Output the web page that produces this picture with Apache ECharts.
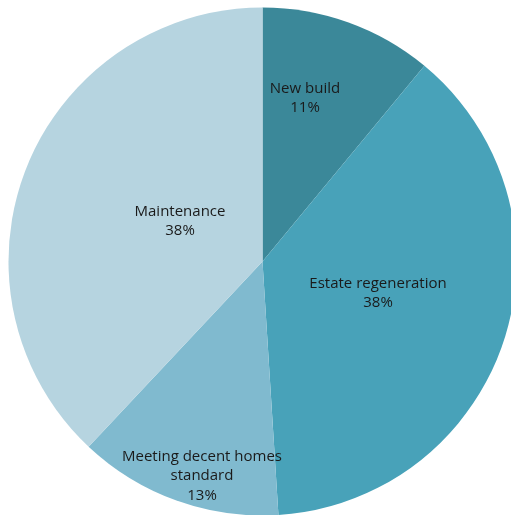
<!DOCTYPE html>
<html>
<head>
<meta charset="utf-8">
<script src="https://cdn.jsdelivr.net/npm/echarts@6/dist/echarts.min.js"></script>
<style>
  html, body { margin: 0; padding: 0; background: #ffffff; }
  #chart { width: 511px; height: 515px; }
</style>
</head>
<body>
<div id="chart"></div>
<script>
// Spending split by programme (percent)
const categories = ['New build', 'Estate regeneration', 'Meeting decent homes\nstandard', 'Maintenance'];
const shares = [11, 38, 13, 38];
const sliceColors = ['#3b8899', '#48a2b9', '#80bacf', '#b6d4e0'];

// Label anchor points (centre of each text block) in pixels
const labelAnchors = [[305, 98], [378, 293], [202, 476], [180, 221]];

const chart = echarts.init(document.getElementById('chart'), null, { renderer: 'canvas' });

chart.setOption({
  animation: false,
  backgroundColor: '#ffffff',
  series: [{
    type: 'pie',
    center: [262.5, 261.5],
    radius: 254,
    startAngle: 90,
    clockwise: true,
    silent: true,
    itemStyle: { borderWidth: 0 },
    label: {
      show: true,
      position: 'inside',
      formatter: p => p.name + '\n' + p.value + '%',
      color: '#1a1a1a',
      fontFamily: 'Open Sans',
      fontSize: 15,
      lineHeight: 19.5,
      align: 'center',
      verticalAlign: 'middle'
    },
    labelLine: { show: false },
    labelLayout: params => ({
      x: labelAnchors[params.dataIndex][0],
      y: labelAnchors[params.dataIndex][1],
      align: 'center',
      verticalAlign: 'middle'
    }),
    data: categories.map((name, i) => ({
      name: name,
      value: shares[i],
      itemStyle: { color: sliceColors[i] }
    }))
  }]
});
</script>
</body>
</html>
